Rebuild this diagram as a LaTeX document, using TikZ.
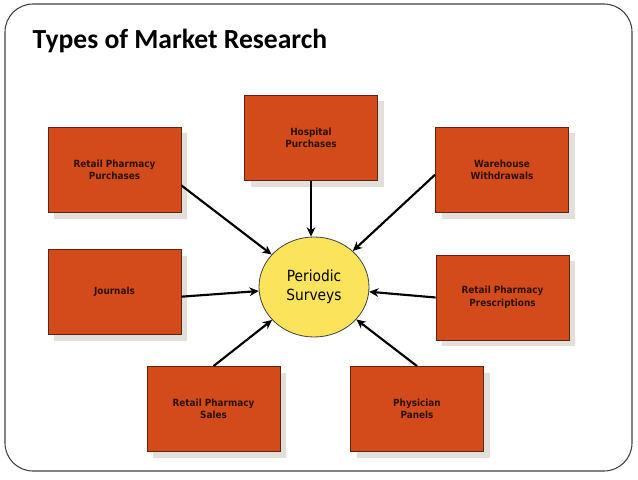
\documentclass[tikz,border=0pt]{standalone}
\usepackage{fontspec}
\setmainfont{DejaVu Sans}
\newfontfamily\titlefont{Carlito}
\newfontfamily\condfont{DejaVu Sans Condensed}
\usetikzlibrary{shapes.geometric,shadows,arrows.meta}
\definecolor{boxfill}{HTML}{D44B1B}
\definecolor{boxline}{HTML}{5A2610}
\definecolor{boxtext}{HTML}{2A1208}
\definecolor{shadowgray}{HTML}{E2DEDA}
\definecolor{ellfill}{HTML}{FCE35C}
\tikzset{
  stepbox/.style={rectangle, draw=boxline, line width=0.6pt, fill=boxfill,
    minimum width=99.75pt, minimum height=63.75pt, inner sep=0pt,
    align=center, text=boxtext, font=\condfont\bfseries\fontsize{7.4}{9.4}\selectfont,
    drop shadow={shadow xshift=4.5pt, shadow yshift=-4.5pt, fill=shadowgray, opacity=1}},
  hub/.style={ellipse, draw=black!75, line width=0.6pt, fill=ellfill,
    minimum width=82.5pt, minimum height=75pt, inner sep=0pt, align=center,
    font=\condfont\fontsize{11.5}{14}\selectfont},
  feed/.style={line width=1.6pt, -{Stealth[length=7pt,width=6.5pt]}},
  frame/.style={draw=black!75, line width=0.8pt, rounded corners=21pt}
}
\begin{document}
\begin{tikzpicture}[x=0.75pt,y=0.75pt]
\useasboundingbox (0,0) rectangle (638,479);
\draw[frame] (5,475) rectangle (632,8);
\node[anchor=base west, font=\titlefont\bfseries\fontsize{20.7}{24}\selectfont] (title) at (28,430) {Types of Market Research};

\node[hub] (ps) at (314,192) {Periodic\\Surveys};
\node[stepbox] (rpp) at (114.5,309) {Retail Pharmacy\\Purchases};
\node[stepbox] (hp) at (311,341) {Hospital\\Purchases};
\node[stepbox] (ww) at (502,309) {Warehouse\\Withdrawals};
\node[stepbox] (jr) at (114.5,187) {Journals};
\node[stepbox] (rpr) at (502.5,181.5) {Retail Pharmacy\\Prescriptions};
\node[stepbox] (rps) at (213.5,70) {Retail Pharmacy\\Sales};
\node[stepbox] (pp) at (417,70) {Physician\\Panels};

\draw[feed] (rpp.-13.5) -- (ps);
\draw[feed] (hp.south) -- (hp.south |- ps.north);
\draw[feed] (ww.184) -- (ps);
\draw[feed] (jr.-4) -- (ps);
\draw[feed] (rpr.west) -- (ps);
\draw[feed] (rps.north) -- (ps);
\draw[feed] (pp.north) -- (ps);
\end{tikzpicture}
\end{document}
